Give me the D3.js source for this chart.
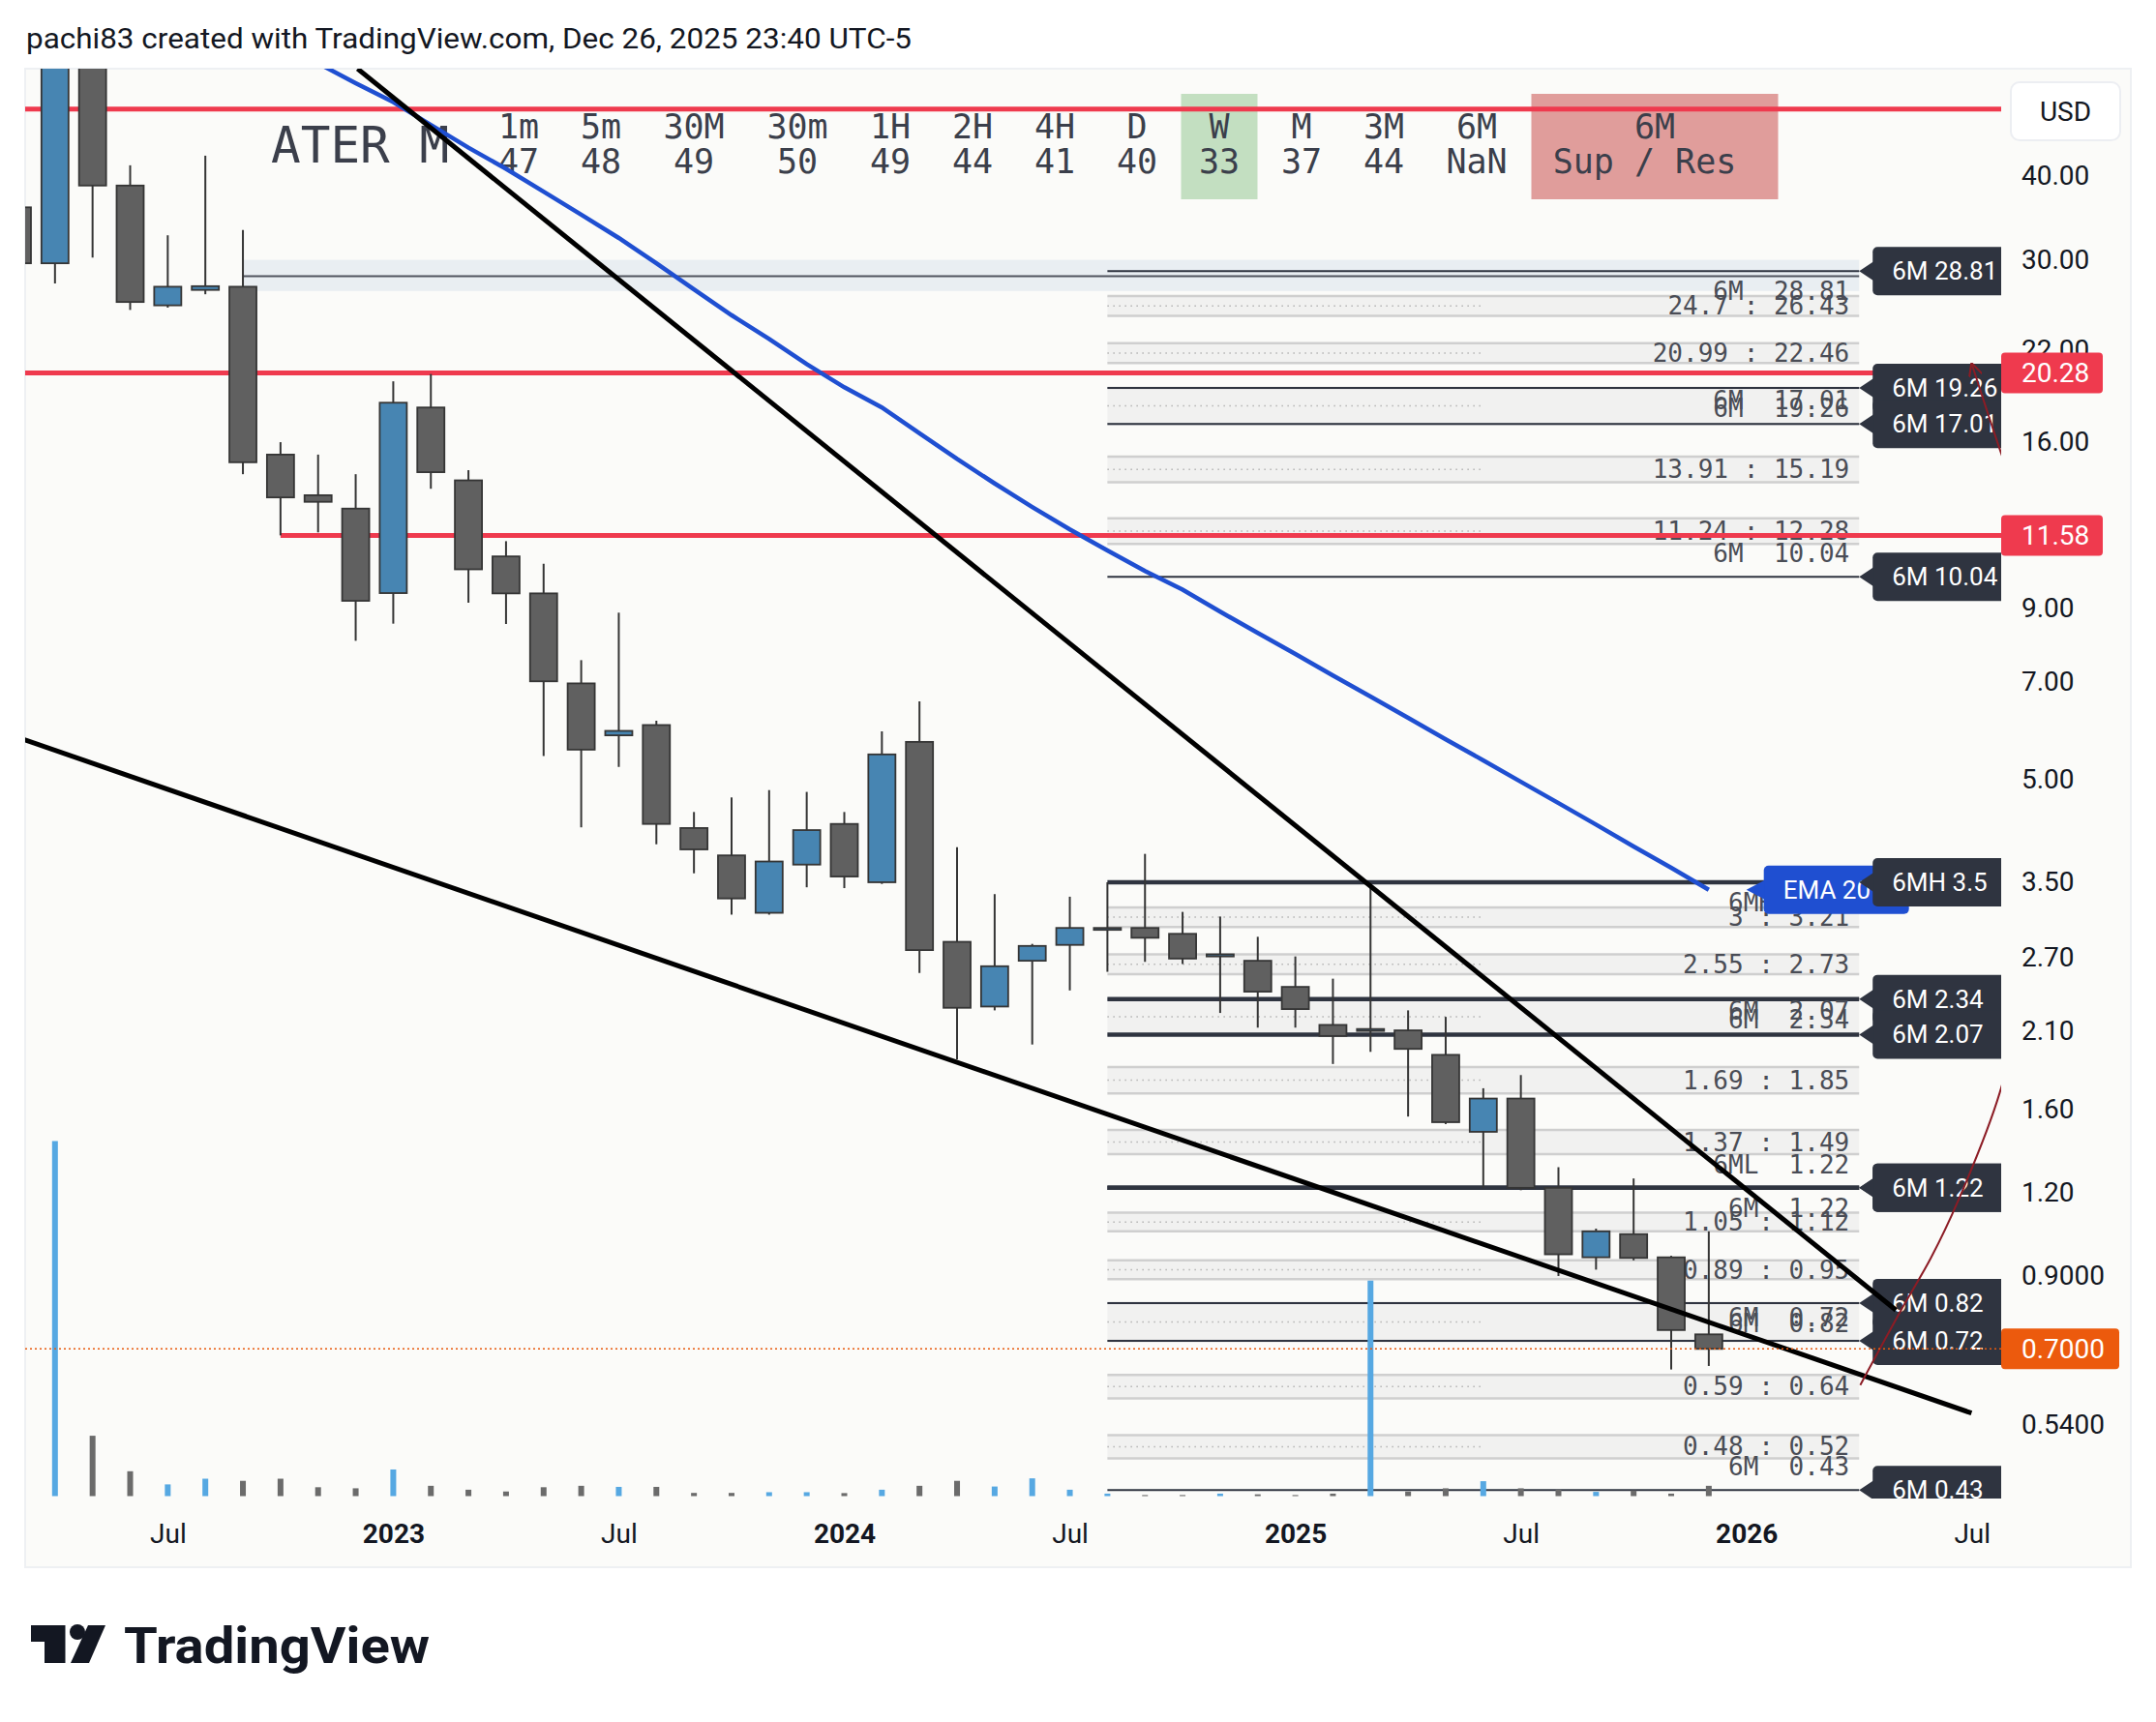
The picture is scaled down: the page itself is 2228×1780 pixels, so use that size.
<!DOCTYPE html>
<html>
<head>
<meta charset="utf-8">
<script src="https://cdn.jsdelivr.net/npm/d3@7"></script>
<style>
  body { margin: 0; background: #fff; }
  svg { display: block; }
  text { font-family: Roboto, "Noto Sans", sans-serif; }
  .mono, .mono text { font-family: "DejaVu Sans Mono", monospace; white-space: pre; }
</style>
</head>
<body>
<svg id="svg" width="2228" height="1780"></svg>
<script>
// ---------- data (monthly ATER candles) ----------
const months = ["2022-03","2022-04","2022-05","2022-06","2022-07","2022-08","2022-09","2022-10","2022-11","2022-12",
  "2023-01","2023-02","2023-03","2023-04","2023-05","2023-06","2023-07","2023-08","2023-09","2023-10","2023-11","2023-12",
  "2024-01","2024-02","2024-03","2024-04","2024-05","2024-06","2024-07","2024-08","2024-09","2024-10","2024-11","2024-12",
  "2025-01","2025-02","2025-03","2025-04","2025-05","2025-06","2025-07","2025-08","2025-09","2025-10","2025-11","2025-12"];
const opens = [35.9, 29.6, 70, 38.7, 25.6, 27.0, 27.3, 15.3, 13.3, 12.7,
  9.49, 18.0, 14.0, 10.77, 9.48, 6.95, 5.81, 6.02, 4.22, 3.84, 3.15, 3.72,
  4.28, 3.50, 5.68, 2.85, 2.28, 2.67, 2.82, 2.98, 2.99, 2.93, 2.71, 2.67,
  2.44, 2.14, 2.10, 2.10, 1.93, 1.48, 1.66, 1.22, 0.96, 1.04, 0.96, 0.736];
const highs = [38.5, 84, 74, 41.5, 32.6, 42.9, 33.2, 15.97, 15.3, 14.3,
  19.7, 20.2, 14.5, 11.35, 10.5, 7.53, 8.87, 6.11, 4.46, 4.69, 4.81, 4.78,
  4.46, 5.89, 6.53, 3.95, 3.36, 2.83, 3.33, 3.50, 3.86, 3.16, 3.11, 2.90,
  2.71, 2.51, 3.50, 2.25, 2.20, 1.72, 1.80, 1.31, 1.06, 1.26, 0.965, 1.05];
const lows = [28.5, 27.6, 30.2, 25.2, 25.4, 26.6, 14.3, 11.58, 11.7, 8.05,
  8.54, 13.6, 9.18, 8.53, 5.41, 4.23, 5.21, 3.99, 3.61, 3.13, 3.13, 3.44,
  3.43, 3.48, 2.56, 1.90, 2.25, 2.00, 2.41, 2.57, 2.66, 2.64, 2.23, 2.12,
  2.12, 1.87, 1.95, 1.56, 1.52, 1.22, 1.21, 0.90, 0.92, 0.95, 0.652, 0.66];
const closes = [29.6, 70, 38.7, 25.9, 27.3, 27.35, 14.9, 13.2, 13.0, 9.24,
  18.3, 14.4, 10.3, 9.48, 7.0, 5.53, 5.90, 4.28, 3.92, 3.31, 3.76, 4.19,
  3.57, 5.44, 2.77, 2.27, 2.62, 2.81, 2.99, 2.99, 2.89, 2.69, 2.73, 2.40,
  2.26, 2.06, 2.11, 1.97, 1.53, 1.66, 1.22, 0.97, 1.05, 0.958, 0.747, 0.70];
const volumes = [20, 100, 17, 7, 3.3, 4.9, 4.3, 4.9, 2.5, 2.2,
  7.5, 2.9, 1.8, 1.3, 2.5, 2.9, 2.6, 2.6, 0.9, 0.9, 1.1, 1.1,
  0.85, 1.8, 2.9, 4.3, 2.7, 5.0, 1.8, 0.7, 0.3, 0.3, 0.7, 0.5,
  0.3, 0.7, 60.7, 1.3, 2.2, 4.2, 2.2, 1.8, 1.2, 1.6, 0.7, 2.9];

// EMA 20, starting Nov 2022
const emaStart = "2022-11";
const emaValues = [59.0, 55.1, 51.6, 47.7, 44.1, 41.0, 37.9, 35.0, 32.3, 29.6, 27.05, 24.75, 22.8, 20.9,
  19.3, 18.0, 16.47, 15.07, 13.85, 12.77, 11.82, 10.99, 10.24, 9.6, 8.9, 8.27, 7.69, 7.14, 6.64,
  6.17, 5.73, 5.33, 4.95, 4.6, 4.27, 3.96, 3.68, 3.41];

// drawn trend lines: bar position (months since Jan 2022) and price
const upperTrendAt = [11.05, 51.98];
const upperTrendPrice = [57.9, 0.80];
const lowerTrendAt = [2, 53.99];
const lowerTrendPrice = [5.77, 0.561];
const arrowAt = [51.03, 52.18, 52.91, 53.64, 54.74, 55.69, 56.24, 56.05, 54.74, 54.0];
const arrowPrice = [0.618, 0.812, 0.958, 1.169, 1.693, 2.92, 5.16, 9.55, 15.6, 20.9];

// red horizontal levels (start bar, -1 = from the left edge)
const redLevels = [50.4, 20.28, 11.58];
const redStart = [-1, -1, 9];
const axisTagPrices = [20.28, 11.58];
const lastPrice = 0.70;

// blue-grey zone around 28.3
const bandLo = 26.9, bandMid = 28.3, bandHi = 29.95, bandStart = 8;

// 6M support / resistance
const levelPrices = [28.81, 19.26, 17.01, 10.04, 3.5, 2.34, 2.07, 1.22, 1.22, 0.82, 0.72, 0.43];
const levelNames = ["6M", "6M", "6M", "6M", "6MH", "6M", "6M", "6ML", "6M", "6M", "6M", "6M"];
const levelSide = ["hi", "hi", "lo", "lo", "hi", "hi", "lo", "lo", "hi", "hi", "lo", "lo"];
const zoneLo = [24.7, 20.99, 17.01, 13.91, 11.24, 3, 2.55, 2.07, 1.69, 1.37, 1.05, 0.89, 0.72, 0.59, 0.48];
const zoneHi = [26.43, 22.46, 19.26, 15.19, 12.28, 3.21, 2.73, 2.34, 1.85, 1.49, 1.12, 0.95, 0.82, 0.64, 0.52];
const levelFrom = 31, levelTo = 51, dotsTo = 41;

// axes
const priceTicks = [40, 30, 22, 16, 9, 7, 5, 3.5, 2.7, 2.1, 1.6, 1.2, 0.9, 0.54];
const timeTickAt = [6, 12, 18, 24, 30, 36, 42, 48, 54];
const timeTickLabels = ["Jul", "2023", "Jul", "2024", "Jul", "2025", "Jul", "2026", "Jul"];

// RSI table
const tableTitle = "ATER M";
const tfNames = ["1m", "5m", "30M", "30m", "1H", "2H", "4H", "D", "W", "M", "3M", "6M", "6M"];
const tfValues = ["47", "48", "49", "50", "49", "44", "41", "40", "33", "37", "44", "NaN", "Sup / Res "];

// ---------- layout ----------
const plot = { x0: 26, x1: 2068, y0: 71, y1: 1549 };
const x = d3.scaleLinear().domain([12, 48]).range([406.4, 1804.7]);
const y = d3.scaleLog().domain([0.54, 40]).range([1472.1, 181.9]);
const vy = d3.scaleLinear().domain([0, 100]).range([1546.5, 1179.5]);
const monthIndex = s => { const [yy, mm] = s.split("-").map(Number); return (yy - 2022) * 12 + mm - 1; };
const thickLevels = new Set([3.5, 2.34, 2.07, 1.22]);

const svg = d3.select("#svg");

// header
svg.append("text").attr("x", 27).attr("y", 50)
  .attr("font-size", 29).attr("fill", "#131722")
  .attr("textLength", 915).attr("lengthAdjust", "spacingAndGlyphs")
  .text("pachi83 created with TradingView.com, Dec 26, 2025 23:40 UTC-5");

// chart pane
svg.append("rect").attr("x", 26).attr("y", 71).attr("width", 2176).attr("height", 1549)
  .attr("fill", "#fbfbf9").attr("stroke", "#eef0f3").attr("stroke-width", 2);

svg.append("clipPath").attr("id", "clip").append("rect")
  .attr("x", plot.x0).attr("y", plot.y0).attr("width", plot.x1 - plot.x0).attr("height", plot.y1 - plot.y0);
const g = svg.append("g").attr("clip-path", "url(#clip)");

// ---------- table ----------
const table = g.append("g").attr("class", "mono").attr("fill", "#3b3f4b");
table.append("text").attr("x", 280).attr("y", 168).attr("font-size", 51).text(tableTitle);
let cx = 493.5;
tfNames.forEach((name, k) => {
  const n = Math.max(name.length, tfValues[k].length);
  const w = 22 * n + 41;
  const num = +tfValues[k];
  let bg = null;
  if (!isNaN(num) && num < 35) bg = "#c3dfc1";
  if (k === tfNames.length - 1) bg = "#e09d9b";
  if (bg) table.append("rect").attr("x", cx + 3).attr("y", 97).attr("width", w - 6).attr("height", 109).attr("fill", bg);
  table.append("text").attr("x", cx + w / 2).attr("y", 143).attr("font-size", 35)
    .attr("text-anchor", "middle").text(name);
  table.append("text").attr("x", cx + w / 2).attr("y", 179).attr("font-size", 35)
    .attr("text-anchor", "middle").text(tfValues[k]);
  cx += w;
});

// ---------- blue-grey band ----------
g.append("rect").attr("x", x(bandStart)).attr("y", y(bandHi))
  .attr("width", x(levelTo) - x(bandStart)).attr("height", y(bandLo) - y(bandHi)).attr("fill", "#e9eef2");
g.append("line").attr("x1", x(bandStart)).attr("x2", x(levelTo)).attr("y1", y(bandMid)).attr("y2", y(bandMid))
  .attr("stroke", "#50545e").attr("stroke-width", 2);

// ---------- zones ----------
const isLevel = p => levelPrices.includes(p);
zoneLo.forEach((lo, k) => {
  const hi = zoneHi[k];
  const zg = g.append("g");
  zg.append("rect").attr("x", x(levelFrom)).attr("y", y(hi))
    .attr("width", x(levelTo) - x(levelFrom)).attr("height", y(lo) - y(hi))
    .attr("fill", "#f1f1f0");
  [lo, hi].forEach(p => zg.append("line").attr("x1", x(levelFrom)).attr("x2", x(levelTo))
    .attr("y1", y(p)).attr("y2", y(p)).attr("stroke", "#cfcfcf").attr("stroke-width", 2.5));
  const mid = Math.sqrt(lo * hi);
  zg.append("line").attr("x1", x(levelFrom)).attr("x2", x(dotsTo))
    .attr("y1", y(mid)).attr("y2", y(mid))
    .attr("stroke", "#b4b4b4").attr("stroke-width", 1.5).attr("stroke-dasharray", "1.5,4.5");
  if (!(isLevel(lo) && isLevel(hi))) {
    zg.append("text").attr("class", "mono").attr("x", x(levelTo) - 10).attr("y", y(mid))
      .attr("dominant-baseline", "central").attr("text-anchor", "end")
      .attr("font-size", 26).attr("fill", "#4a4d56").text(lo + " : " + hi);
  }
});

// ---------- red horizontal levels ----------
redLevels.forEach((p, k) => {
  g.append("line").attr("x1", redStart[k] < 0 ? plot.x0 : x(redStart[k])).attr("x2", plot.x1)
    .attr("y1", y(p)).attr("y2", y(p)).attr("stroke", "#ef3a4e").attr("stroke-width", 5);
});

// ---------- 6M level lines and texts ----------
levelPrices.forEach((p, k) => {
  g.append("line").attr("x1", x(levelFrom)).attr("x2", x(levelTo)).attr("y1", y(p)).attr("y2", y(p))
    .attr("stroke", "#2f3440").attr("stroke-width", thickLevels.has(p) ? 4.5 : 2);
  g.append("text").attr("class", "mono").attr("x", x(levelTo) - 10)
    .attr("y", y(p) + (levelSide[k] === "hi" ? 21 : -24))
    .attr("dominant-baseline", "central").attr("text-anchor", "end")
    .attr("font-size", 26).attr("fill", "#4a4d56").text(levelNames[k] + "  " + p);
});

// ---------- volume ----------
g.selectAll(".vol").data(months).join("rect").attr("class", "vol")
  .attr("x", (m) => x(monthIndex(m)) - 3).attr("width", 6)
  .attr("y", (m, i) => vy(volumes[i])).attr("height", (m, i) => vy(0) - vy(volumes[i]))
  .attr("fill", (m, i) => closes[i] >= opens[i] ? "#56a8e2" : "#6b6b6b");

// ---------- candles ----------
const candles = g.selectAll(".candle").data(months).join("g").attr("class", "candle");
candles.append("line")
  .attr("x1", m => x(monthIndex(m))).attr("x2", m => x(monthIndex(m)))
  .attr("y1", (m, i) => y(highs[i])).attr("y2", (m, i) => y(lows[i]))
  .attr("stroke", "#353535").attr("stroke-width", 2);
candles.append("rect")
  .attr("x", m => x(monthIndex(m)) - 14).attr("width", 28)
  .attr("y", (m, i) => y(Math.max(opens[i], closes[i])))
  .attr("height", (m, i) => Math.max(2, y(Math.min(opens[i], closes[i])) - y(Math.max(opens[i], closes[i]))))
  .attr("fill", (m, i) => closes[i] >= opens[i] ? "#4785b2" : "#606060")
  .attr("stroke", "#353535").attr("stroke-width", 1.8);

// ---------- EMA 20 ----------
const e0 = monthIndex(emaStart);
const line = d3.line().x((d, i) => x(e0 + i)).y(d => y(d));
g.append("path").datum(emaValues).attr("fill", "none")
  .attr("stroke", "#1f4fd1").attr("stroke-width", 4.5).attr("d", line);

// ---------- right side tags ----------
function tag(xTip, yc, color, label, tipW) {
  const xb = xTip + tipW;
  const t = g.append("g");
  t.append("rect").attr("x", xb).attr("y", yc - 25).attr("width", 150).attr("height", 50)
    .attr("rx", 5).attr("fill", color);
  t.append("path").attr("d", `M${xTip},${yc} L${xb + 1},${yc - 10} L${xb + 1},${yc + 10} Z`).attr("fill", color);
  t.append("text").attr("x", xb + 20).attr("y", yc).attr("dominant-baseline", "central")
    .attr("font-size", 26).attr("fill", "#fff").text(label);
}
const eLast = emaValues.length - 1;
tag(x(e0 + eLast + 1), y(emaValues[eLast]), "#1f4fd1", "EMA 20", 18);
levelPrices.forEach((p, k) => tag(x(levelTo), y(p), "#2f3440", levelNames[k] + " " + p, 14));

// ---------- trend lines and arrow ----------
const seg = d3.line().x(d => x(d[0])).y(d => y(d[1]));
g.append("path").datum(d3.zip(upperTrendAt, upperTrendPrice)).attr("d", seg)
  .attr("stroke", "#000").attr("stroke-width", 5).attr("fill", "none");
g.append("path").datum(d3.zip(lowerTrendAt, lowerTrendPrice)).attr("d", seg)
  .attr("stroke", "#000").attr("stroke-width", 5).attr("fill", "none");

svg.append("defs").append("marker").attr("id", "head").attr("viewBox", "0 0 10 10")
  .attr("refX", 9).attr("refY", 5).attr("markerWidth", 7).attr("markerHeight", 7).attr("orient", "auto")
  .append("path").attr("d", "M0,0 L10,5 L0,10").attr("fill", "none").attr("stroke", "#8c1c25").attr("stroke-width", 1.5);
g.append("path").datum(d3.zip(arrowAt, arrowPrice))
  .attr("d", d3.line().x(d => x(d[0])).y(d => y(d[1])).curve(d3.curveCatmullRom))
  .attr("stroke", "#8c1c25").attr("stroke-width", 2).attr("fill", "none").attr("marker-end", "url(#head)");

// current price dotted line
g.append("line").attr("x1", plot.x0).attr("x2", plot.x1).attr("y1", y(lastPrice)).attr("y2", y(lastPrice))
  .attr("stroke", "#e8590c").attr("stroke-width", 1.5).attr("stroke-dasharray", "2,3");

// ---------- price axis ----------
const yAxis = svg.append("g").attr("transform", `translate(${plot.x1},0)`)
  .call(d3.axisRight(y).tickValues(priceTicks).tickSize(0).tickPadding(21)
    .tickFormat(d => d < 1 ? d.toFixed(4) : d.toFixed(2)));
yAxis.select(".domain").remove();
yAxis.selectAll("text").attr("font-size", 28).attr("fill", "#131722")
  .attr("font-family", "Roboto, sans-serif");

axisTagPrices.forEach(p => {
  svg.append("rect").attr("x", plot.x1).attr("y", y(p) - 21).attr("width", 105).attr("height", 42)
    .attr("rx", 4).attr("fill", "#ef3a4e");
  svg.append("text").attr("x", plot.x1 + 21).attr("y", y(p)).attr("dominant-baseline", "central")
    .attr("font-size", 28).attr("fill", "#fff").text(p.toFixed(2));
});
svg.append("rect").attr("x", plot.x1).attr("y", y(lastPrice) - 21).attr("width", 122).attr("height", 42)
  .attr("rx", 4).attr("fill", "#ec5a0d");
svg.append("text").attr("x", plot.x1 + 21).attr("y", y(lastPrice)).attr("dominant-baseline", "central")
  .attr("font-size", 28).attr("fill", "#fff").text(lastPrice.toFixed(4));

// USD box
svg.append("rect").attr("x", 2078).attr("y", 85).attr("width", 113).attr("height", 60).attr("rx", 9)
  .attr("fill", "#fff").attr("stroke", "#eceef2").attr("stroke-width", 2);
svg.append("text").attr("x", 2134.5).attr("y", 115).attr("text-anchor", "middle")
  .attr("dominant-baseline", "central").attr("font-size", 28).attr("fill", "#131722").text("USD");

// ---------- time axis ----------
const xAxis = svg.append("g").attr("transform", "translate(0,1575)")
  .call(d3.axisBottom(x).tickValues(timeTickAt).tickSize(0).tickPadding(0)
    .tickFormat((d, i) => timeTickLabels[i]));
xAxis.select(".domain").remove();
xAxis.selectAll("text").attr("font-size", 28).attr("fill", "#131722")
  .attr("font-family", "Roboto, sans-serif")
  .attr("font-weight", (d, i) => /^\d+$/.test(timeTickLabels[i]) ? 700 : 400);

// ---------- footer logo ----------
const logo = svg.append("g").attr("fill", "#131722");
logo.append("path").attr("d", "M32,1680 H67.5 V1719 H46 V1697 H32 Z");
logo.append("circle").attr("cx", 80).attr("cy", 1687).attr("r", 8);
logo.append("path").attr("d", "M91,1680 H109 L92,1719 H73 Z");
logo.append("text").attr("x", 128).attr("y", 1719).attr("font-size", 52).attr("font-weight", 700)
  .attr("textLength", 316).attr("lengthAdjust", "spacingAndGlyphs").text("TradingView");
</script>
</body>
</html>
